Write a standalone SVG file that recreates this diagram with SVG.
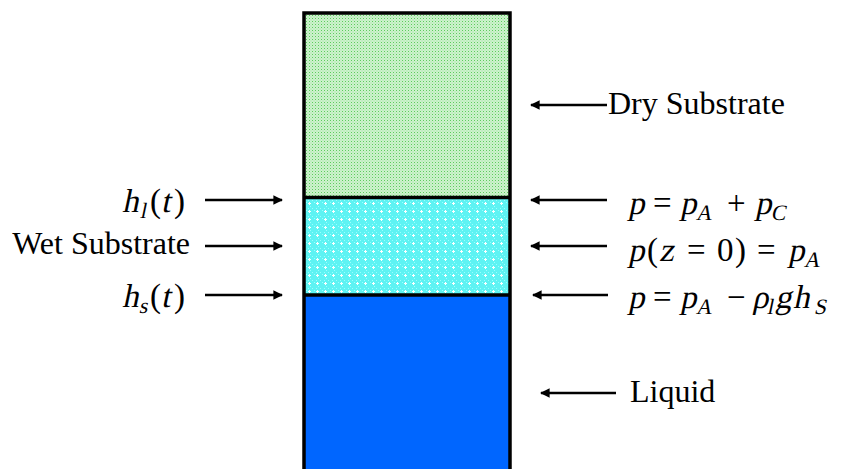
<svg xmlns="http://www.w3.org/2000/svg" width="841" height="469" viewBox="0 0 841 469">
<defs>
<pattern id="dry" width="3" height="3" patternUnits="userSpaceOnUse">
<rect width="3" height="3" fill="#cdf2cd"/>
<rect x="0" y="0" width="1" height="1" fill="#5ccc5c"/>
<rect x="1.5" y="1.5" width="1" height="1" fill="#9ee29e"/>
</pattern>
<pattern id="wet" width="8" height="8" patternUnits="userSpaceOnUse">
<rect width="8" height="8" fill="#5ef3f3"/>
<rect x="0" y="0" width="1" height="1" fill="#9ff"/>
<rect x="2" y="2" width="1" height="1" fill="#9ff"/>
<rect x="4" y="0" width="1" height="1" fill="#9ff"/>
<rect x="6" y="6" width="1" height="1" fill="#9ff"/>
<rect x="4" y="3" width="3" height="1" fill="#fff"/>
<rect x="5" y="2" width="1" height="3" fill="#fff"/>
</pattern>
<marker id="ah" viewBox="0 0 10 10" refX="9" refY="5" markerWidth="4" markerHeight="4" orient="auto-start-reverse" markerUnits="strokeWidth">
<path d="M0,0 L10,5 L0,10 z" fill="#000"/>
</marker>
</defs>
<style>
.ar{stroke:#000;stroke-width:2.4;fill:none}
.t{font-family:"Liberation Serif","Times New Roman",serif;font-size:32px;fill:#000}
.m{font-family:"Liberation Serif","Times New Roman",serif;font-size:33px;fill:#000}
.s{font-size:22px}
</style>
<g id="column">
<rect id="dry-layer" x="304" y="13" width="206" height="185" fill="url(#dry)"/>
<rect id="wet-layer" x="304" y="198" width="206" height="97" fill="url(#wet)"/>
<rect id="liquid-layer" x="304" y="295" width="206" height="180" fill="#0066ff"/>
<path d="M304,475 V13 H510 V475" fill="none" stroke="#000" stroke-width="3.5"/>
<line x1="304" y1="197.5" x2="510" y2="197.5" stroke="#000" stroke-width="3.5"/>
<line x1="304" y1="295" x2="510" y2="295" stroke="#000" stroke-width="3.5"/>
</g>
<g id="connectors">
<line class="ar" x1="205" y1="200" x2="282" y2="200" marker-end="url(#ah)"/>
<line class="ar" x1="205" y1="246" x2="282" y2="246" marker-end="url(#ah)"/>
<line class="ar" x1="205" y1="295" x2="282" y2="295" marker-end="url(#ah)"/>
<line class="ar" x1="607" y1="105" x2="531" y2="105" marker-end="url(#ah)"/>
<line class="ar" x1="607" y1="200" x2="531" y2="200" marker-end="url(#ah)"/>
<line class="ar" x1="607" y1="246" x2="531" y2="246" marker-end="url(#ah)"/>
<line class="ar" x1="608" y1="295" x2="533" y2="295" marker-end="url(#ah)"/>
<line class="ar" x1="616" y1="393" x2="541" y2="393" marker-end="url(#ah)"/>
</g>
<g id="label-dry"><text class="t" x="608" y="114">Dry Substrate</text></g>
<g id="label-liquid"><text class="t" x="630" y="402">Liquid</text></g>
<g id="label-wet"><text class="t" x="190" y="254" text-anchor="end">Wet Substrate</text></g>
<g id="label-hl">
<text class="m" y="212" transform="translate(45.07,0) skewX(-12)"><tspan x="122">h</tspan><tspan class="s" x="141" dy="6">l</tspan><tspan x="161" dy="-6">t</tspan></text>
<text class="m" y="212"><tspan x="150">(</tspan><tspan x="174">)</tspan></text>
</g>
<g id="label-hs">
<text class="m" y="307" transform="translate(65.27,0) skewX(-12)"><tspan x="122">h</tspan><tspan class="s" x="140" dy="6">s</tspan><tspan x="161" dy="-6">t</tspan></text>
<text class="m" y="307"><tspan x="150">(</tspan><tspan x="174">)</tspan></text>
</g>
<g id="label-p1">
<text class="m" y="214" transform="translate(45.5,0) skewX(-12)"><tspan x="628">p</tspan><tspan x="680">p</tspan><tspan class="s" x="697" dy="6">A</tspan><tspan x="755" dy="-6">p</tspan><tspan class="s" x="772" dy="6">C</tspan></text>
<text class="m" y="214"><tspan x="653">=</tspan><tspan x="727">+</tspan></text>
</g>
<g id="label-p2">
<text class="m" y="261" transform="translate(55.48,0) skewX(-12)"><tspan x="628">p</tspan><tspan x="659">z</tspan><tspan x="788">p</tspan><tspan class="s" x="805" dy="6">A</tspan></text>
<text class="m" y="261"><tspan x="647">(</tspan><tspan x="687">=</tspan><tspan x="717">0</tspan><tspan x="735">)</tspan><tspan x="757">=</tspan></text>
</g>
<g id="label-p3">
<text class="m" y="308" transform="translate(65.48,0) skewX(-12)"><tspan x="628">p</tspan><tspan x="680">p</tspan><tspan class="s" x="697" dy="6">A</tspan><tspan x="752" dy="-6">ρ</tspan><tspan class="s" x="768" dy="6">l</tspan><tspan x="775" dy="-6">g</tspan><tspan x="793">h</tspan><tspan class="s" x="815" dy="6">S</tspan></text>
<text class="m" y="308"><tspan x="653">=</tspan><tspan x="727">−</tspan></text>
</g>
</svg>
